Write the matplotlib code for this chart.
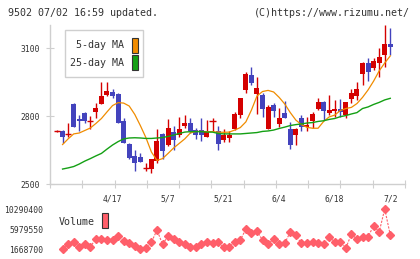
import numpy as np
import matplotlib.pyplot as plt
from matplotlib.patches import Rectangle

plt.rcParams['font.family'] = ['DejaVu Sans Mono']

# daily prices, 61 sessions ending 7/2
opens = [2734, 2736, 2721, 2852, 2788, 2815, 2779, 2819, 2854, 2893,
         2905, 2896, 2778, 2676, 2624, 2618, 2569, 2565, 2601, 2721,
         2672, 2729, 2715, 2757, 2770, 2737, 2738, 2707, 2777, 2734,
         2694, 2703, 2743, 2804, 2915, 2982, 2898, 2894, 2743, 2847,
         2765, 2813, 2743, 2717, 2791, 2750, 2777, 2831, 2862, 2815,
         2823, 2830, 2804, 2876, 2890, 2985, 3035, 3013, 3035, 3070,
         3118]
highs = [2737, 2738, 2768, 2856, 2804, 2818, 2800, 2856, 2950, 2950,
         2918, 2900, 2792, 2681, 2650, 2637, 2594, 2610, 2743, 2724,
         2787, 2756, 2794, 2804, 2790, 2746, 2790, 2782, 2790, 2756,
         2743, 2734, 2819, 2881, 2995, 3016, 2973, 2900, 2849, 2856,
         2834, 2866, 2772, 2746, 2804, 2794, 2819, 2879, 2866, 2893,
         2871, 2875, 2863, 2919, 2951, 3040, 3056, 3055, 3101, 3201,
         3190]
lows = [2731, 2682, 2706, 2753, 2734, 2768, 2743, 2791, 2854, 2888,
        2878, 2768, 2682, 2609, 2559, 2597, 2559, 2550, 2594, 2610,
        2668, 2650, 2709, 2748, 2726, 2699, 2690, 2707, 2734, 2650,
        2687, 2684, 2738, 2791, 2903, 2935, 2809, 2797, 2743, 2794,
        2753, 2790, 2656, 2673, 2735, 2735, 2748, 2826, 2782, 2804,
        2797, 2797, 2792, 2856, 2871, 2937, 2956, 3003, 2971, 3018,
        3069]
closes = [2734, 2709, 2721, 2753, 2778, 2778, 2779, 2837, 2888, 2910,
          2890, 2769, 2682, 2613, 2591, 2597, 2569, 2610, 2691, 2647,
          2747, 2694, 2743, 2769, 2735, 2715, 2715, 2728, 2777, 2676,
          2716, 2716, 2809, 2881, 2985, 2946, 2925, 2831, 2841, 2823,
          2791, 2792, 2673, 2741, 2753, 2760, 2809, 2862, 2823, 2826,
          2832, 2819, 2863, 2903, 2919, 3035, 2994, 3043, 3062, 3118,
          3106]

nan = float('nan')
ma5 = [nan, 2674, 2699, 2721, 2725, 2736, 2747, 2767, 2789, 2818,
       2846, 2859, 2857, 2844, 2807, 2758, 2705, 2641, 2604, 2612,
       2635, 2659, 2679, 2699, 2725, 2732, 2732, 2731, 2731, 2729,
       2728, 2729, 2738, 2749, 2774, 2826, 2888, 2908, 2913, 2906,
       2882, 2853, 2815, 2782, 2762, 2750, 2746, 2746, 2776, 2796,
       2804, 2824, 2833, 2838, 2855, 2882, 2915, 2954, 2999, 3034,
       3065]
ma25 = [nan, 2566, 2571, 2577, 2588, 2601, 2612, 2624, 2635, 2654,
        2672, 2687, 2699, 2703, 2704, 2703, 2701, 2701, 2703, 2705,
        2710, 2716, 2723, 2729, 2731, 2731, 2731, 2729, 2729, 2723,
        2721, 2721, 2721, 2721, 2723, 2725, 2727, 2732, 2734, 2738,
        2745, 2751, 2758, 2762, 2765, 2769, 2771, 2776, 2779, 2785,
        2789, 2797, 2802, 2809, 2815, 2833, 2840, 2851, 2860, 2871,
        2878]

volume = [nan, 1733000, 2738000, 3295000, 2225000, 2738000, 2225000, 3872000, 3936000, 3658000,
          3658000, 4514000, 3509000, 2952000, 2439000, 1668700, 1883000, 3166000, 5798000, 2738000,
          4514000, 3872000, 3166000, 2738000, 2225000, 2225000, 2738000, 3166000, 2952000, 3166000,
          2097000, 2097000, 3295000, 3658000, 5969000, 5199000, 5541000, 3658000, 2760000, 3915000,
          2696000, 2974000, 5370000, 4664000, 2910000, 2931000, 3230000, 3016000, 2760000, 4236000,
          3295000, 3295000, 1947000, 4899000, 3829000, 4364000, 4364000, 6696000, 5370000, 10290400,
          4728000]

date_pos = [10, 20, 30, 40, 50, 60]
date_labels = ['4/17', '5/7', '5/21', '6/4', '6/18', '7/2']
price_ticks = [2500, 2800, 3100]
vol_ticks = [1668700, 5979550, 10290400]

RED = '#d40000'
BLUE = '#4343bd'
GRAY = '#cfcfcf'
TXT = '#333333'
VOLC = '#ff5f6a'

W, H = 420, 259
fig = plt.figure(figsize=(W / 100, H / 100), dpi=100)
ax = fig.add_axes([50 / W, 1 - 184 / H, 355 / W, 159 / H])
vax = fig.add_axes([50 / W, 1 - 249.3 / H, 355 / W, 40.3 / H])

o = np.array(opens, float)
c = np.array(closes, float)
x = np.arange(len(c))
up = c >= o
doji = o == c
cols = np.where(up, RED, BLUE)

ax.vlines(x, lows, highs, colors=cols, lw=1, zorder=2)
lo = np.minimum(o, c)
ht = np.abs(c - o)
ax.bar(x[~doji], ht[~doji], bottom=lo[~doji], width=0.9,
       color=cols[~doji], lw=0, zorder=2)
ax.hlines(c[doji], x[doji] - 0.55, x[doji] + 0.55, colors=RED, lw=1, zorder=2)

ax.plot(x, ma5, color='#f08c00', lw=0.9, zorder=3)
ax.plot(x, ma25, color='#14a014', lw=1.0, zorder=3)

ax.set_xlim(-1.26, 62.65)
ax.set_ylim(2500, 3201.5)
for s in ['top', 'right']:
    ax.spines[s].set_visible(False)
for s in ['left', 'bottom']:
    ax.spines[s].set_color(GRAY)
    ax.spines[s].set_linewidth(1)

ax.set_yticks(price_ticks)
ax.set_yticklabels([str(t) for t in price_ticks])
ax.tick_params(axis='y', direction='inout', length=5.8, color=GRAY,
               labelsize=5.8, labelcolor=TXT, pad=4.3)
ax.set_xticks(np.linspace(-1.26, 62.65, 12))
ax.set_xticklabels([])
ax.tick_params(axis='x', which='major', direction='inout', length=5.8, color=GRAY)
ax.set_xticks(date_pos, minor=True)
ax.set_xticklabels(date_labels, minor=True)
ax.tick_params(axis='x', which='minor', length=0, labelsize=5.8,
               labelcolor=TXT, pad=7.6)

# legend box
fig.patches.append(Rectangle((65 / W, 1 - 77 / H), 78 / W, 47 / H,
                             transform=fig.transFigure, fc='white',
                             ec=GRAY, lw=1, zorder=5))
fig.text(124 / W, 1 - 45.5 / H, '5-day MA', ha='right', va='center',
         fontsize=7.2, color=TXT, zorder=6)
fig.text(124 / W, 1 - 63 / H, '25-day MA', ha='right', va='center',
         fontsize=7.2, color=TXT, zorder=6)
fig.patches.append(Rectangle((131.5 / W, 1 - 52.5 / H), 6 / W, 15 / H,
                             transform=fig.transFigure, fc='#f08c00',
                             ec='#333333', lw=0.8, zorder=6))
fig.patches.append(Rectangle((131.5 / W, 1 - 70 / H), 6 / W, 15 / H,
                             transform=fig.transFigure, fc='#14a014',
                             ec='#333333', lw=0.8, zorder=6))

# volume
vax.plot(x, volume, color=VOLC, lw=0.8, ls=(0, (2, 1.2)), marker='D',
         ms=4, mfc=VOLC, mec=VOLC, clip_on=False)
vax.set_xlim(-1.26, 62.65)
vax.set_ylim(vol_ticks[0], vol_ticks[-1])
vax.set_yticks(vol_ticks)
vax.set_yticklabels([str(v) for v in vol_ticks])
vax.set_xticks([])
vax.tick_params(axis='y', length=0, labelsize=5.8, labelcolor=TXT, pad=4.8)
for s in vax.spines.values():
    s.set_visible(False)
vax.patch.set_alpha(0)
fig.text(59 / W, 1 - 222 / H, 'Volume', ha='left', va='center',
         fontsize=7.2, color=TXT)
fig.patches.append(Rectangle((101.7 / W, 1 - 228 / H), 6 / W, 15 / H,
                             transform=fig.transFigure, fc=VOLC,
                             ec='#333333', lw=0.8))

fig.text(8 / W, 1 - 12.5 / H, '9502 07/02 16:59 updated.', ha='left',
         va='center', fontsize=7.2, color=TXT)
fig.text(410 / W, 1 - 12.5 / H, '(C)https://www.rizumu.net/', ha='right',
         va='center', fontsize=7.2, color=TXT)

fig.savefig('out.png', dpi=100)
